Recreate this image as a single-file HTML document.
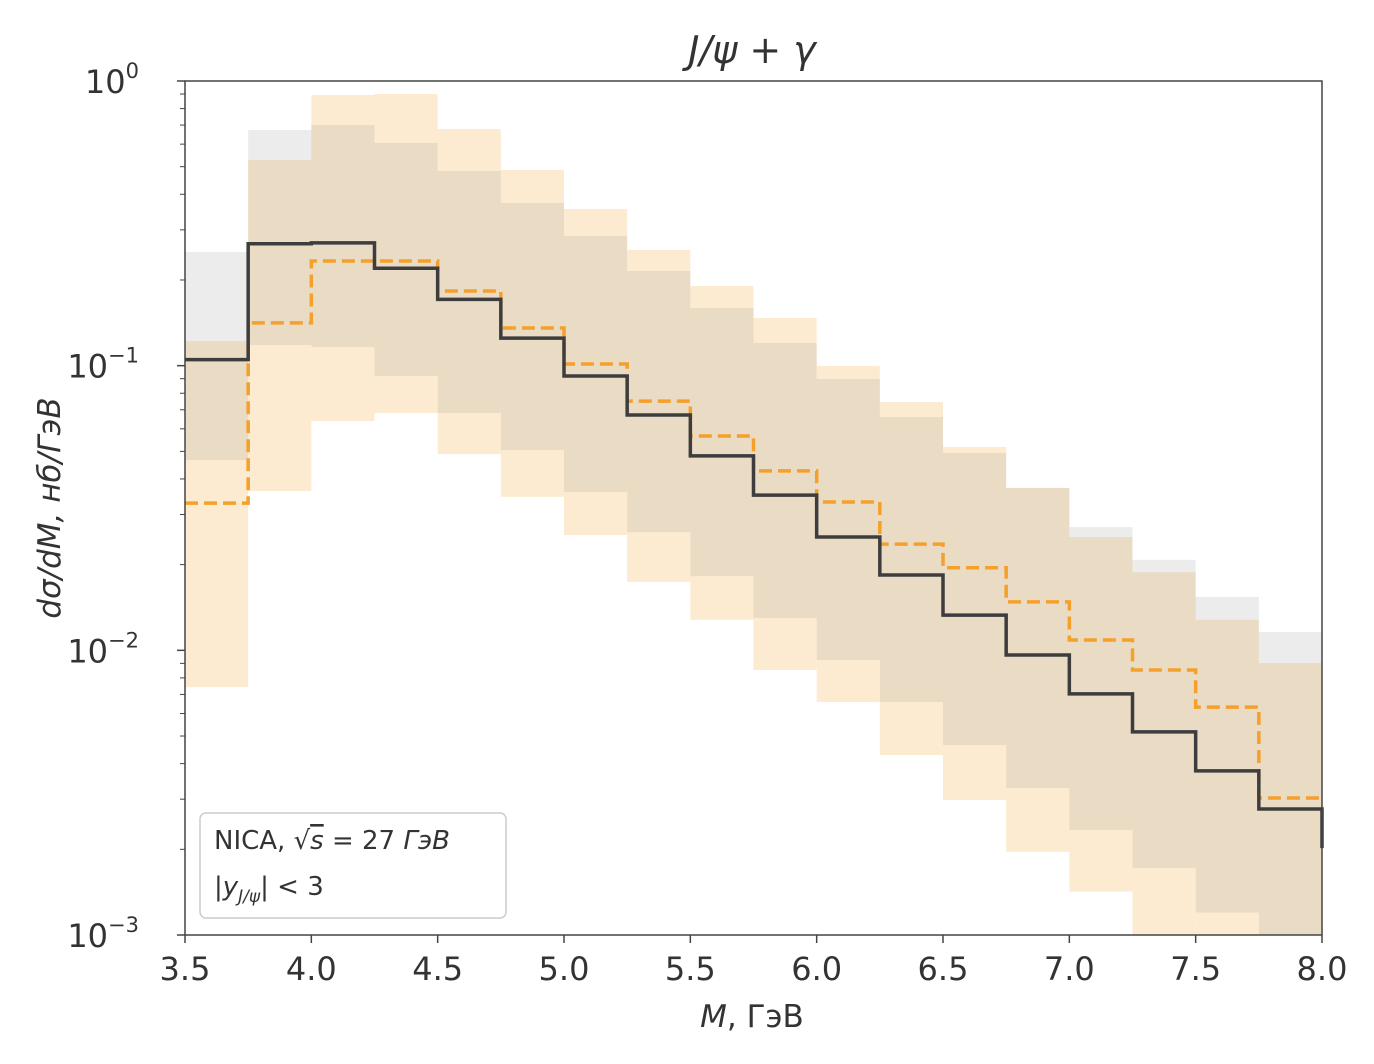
<!DOCTYPE html>
<html><head><meta charset="utf-8">
<style>
body{margin:0;background:#fff;}
svg text{font-family:"DejaVu Sans","Liberation Sans",sans-serif;fill:#333;}
</style></head>
<body>
<svg id="chart" width="1374" height="1059" xmlns="http://www.w3.org/2000/svg">
<g id="bands"></g>
<g id="lines"></g>
<g id="axes"></g>
<text x="752" y="63" font-size="38" font-style="italic" text-anchor="middle">J/ψ + γ</text>
<text x="752" y="1027" font-size="31" text-anchor="middle"><tspan font-style="italic">M</tspan>, ГэВ</text>
<text transform="translate(60,508) rotate(-90)" font-size="31" font-style="italic" text-anchor="middle">dσ/dM, нб/ГэВ</text>
<g>
<rect x="200" y="813" width="306" height="105" rx="6" fill="#fff" fill-opacity="0.8" stroke="#ccc" stroke-width="1.5"/>
<text x="214" y="849" font-size="26">NICA, √<tspan text-decoration="overline" font-style="italic">s</tspan> = 27 <tspan font-style="italic">ГэВ</tspan></text>
<text x="214" y="895" font-size="26">|<tspan font-style="italic">y</tspan><tspan font-size="17" dy="7" font-style="italic">J/ψ</tspan><tspan dy="-7">| &lt; 3</tspan></text>
</g>
</svg>
<script>
const binEdges=[3.5,3.75,4.0,4.25,4.5,4.75,5.0,5.25,5.5,5.75,6.0,6.25,6.5,6.75,7.0,7.25,7.5,7.75,8.0];
const blackValues=[0.105,0.268,0.270,0.220,0.171,0.125,0.0920,0.0671,0.0482,0.0351,0.0250,0.0184,0.0133,0.00963,0.00703,0.00517,0.00377,0.00277];
const blackEnd=0.00202;
const orangeValues=[0.0329,0.1413,0.2332,0.2332,0.1829,0.1356,0.1014,0.0751,0.0566,0.0427,0.0332,0.0236,0.0195,0.0148,0.01087,0.00853,0.00632,0.00303];
const grayUpper=[0.251,0.673,0.700,0.606,0.483,0.373,0.2855,0.215,0.1594,0.1201,0.0898,0.0660,0.0493,0.0372,0.0271,0.0208,0.0154,0.0116];
const grayLower=[0.0466,0.1182,0.1163,0.0920,0.0682,0.0506,0.0360,0.0260,0.01824,0.0130,0.00925,0.00658,0.00465,0.00328,0.00234,0.00172,0.00120,0.0008];
const orangeUpper=[0.122,0.528,0.893,0.900,0.678,0.487,0.355,0.255,0.1905,0.147,0.0997,0.0745,0.0518,0.0372,0.0250,0.0188,0.0128,0.00902];
const orangeLower=[0.00743,0.0363,0.0639,0.0682,0.0489,0.0346,0.0254,0.0174,0.0128,0.00853,0.00658,0.00429,0.00298,0.00196,0.00142,0.0008,0.0008,0.0008];
const xTicks=[3.5,4.0,4.5,5.0,5.5,6.0,6.5,7.0,7.5,8.0];
const xTickLabels=["3.5","4.0","4.5","5.0","5.5","6.0","6.5","7.0","7.5","8.0"];
const yDecades=[0,-1,-2,-3];

const L=185,R=1322,T=81,B=935;
const xs=v=>L+(v-3.5)/(8.0-3.5)*(R-L);
const ys=v=>{const y=T+(-Math.log10(v))/3*(B-T);return Math.min(B,Math.max(T,y));};
const NS="http://www.w3.org/2000/svg";
function mk(tag,attrs,parent){const e=document.createElementNS(NS,tag);for(const k in attrs)e.setAttribute(k,attrs[k]);parent.appendChild(e);return e;}
const bands=document.getElementById('bands'),lines=document.getElementById('lines'),axes=document.getElementById('axes');

for(let i=0;i<orangeUpper.length;i++){
  const x0=xs(binEdges[i]),x1=xs(binEdges[i+1]);
  const r=mk('rect',{x:x0,y:ys(orangeUpper[i]),width:x1-x0,height:ys(orangeLower[i])-ys(orangeUpper[i]),fill:'rgb(253,235,209)'},bands);
  
  
}
for(let i=0;i<grayUpper.length;i++){
  const x0=xs(binEdges[i]),x1=xs(binEdges[i+1]);
  const r=mk('rect',{x:x0,y:ys(grayUpper[i]),width:x1-x0,height:ys(grayLower[i])-ys(grayUpper[i]),fill:'rgb(128,128,128)','fill-opacity':0.15},bands);
  
  
}
function stepPath(vals){let d='M'+xs(binEdges[0])+','+ys(vals[0]);for(let i=0;i<vals.length;i++){if(i>0)d+=' L'+xs(binEdges[i])+','+ys(vals[i]);d+=' L'+xs(binEdges[i+1])+','+ys(vals[i]);}return d;}
const op=mk('path',{d:stepPath(orangeValues),fill:'none',stroke:'#f5a02a','stroke-width':3.5,'stroke-dasharray':'13,6'},lines);


const bp=mk('path',{d:stepPath(blackValues)+' L'+xs(8.0)+','+ys(blackEnd),fill:'none',stroke:'#3d3d3d','stroke-width':3.5},lines);



const fr=mk('rect',{x:L,y:T,width:R-L,height:B-T,fill:'none',stroke:'#444','stroke-width':1.5},axes);


xTicks.forEach((v,i)=>{
  const x=xs(v);
  const t=mk('line',{x1:x,x2:x,y1:B,y2:B+8,stroke:'#444','stroke-width':1.5},axes);
  
  
  const tx=mk('text',{x:x,y:B+45,'font-size':32,'text-anchor':'middle'},axes);
  tx.textContent=xTickLabels[i];
  
  
});
yDecades.forEach(p=>{
  const y=ys(Math.pow(10,p));
  const t=mk('line',{x1:L-8,x2:L,y1:y,y2:y,stroke:'#444','stroke-width':1.5},axes);
  
  
  const tx=mk('text',{x:L-46,y:y+12,'font-size':32,'text-anchor':'end'},axes);
  tx.textContent='10';
  
  
  const sp=mk('tspan',{'font-size':21,dy:-15},tx);
  sp.textContent=String(p).replace('-','−');
  if(p<0){for(let m=2;m<=9;m++){const yy=ys(m*Math.pow(10,p));
    const mt=mk('line',{x1:L-5,x2:L,y1:yy,y2:yy,stroke:'#444','stroke-width':1},axes);
    
    }}
});
</script>
</body></html>
